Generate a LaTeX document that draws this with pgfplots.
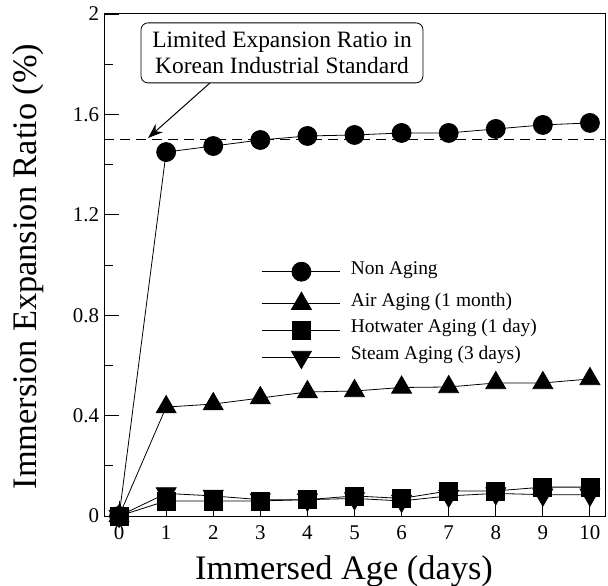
\documentclass[border=0pt]{standalone}
\usepackage{pgfplots}
\pgfplotsset{compat=1.18}
\usepackage{fontspec}
\setmainfont{Liberation Serif}
\usetikzlibrary{arrows.meta}
\begin{document}
\begin{tikzpicture}[x=1bp,y=1bp]
\useasboundingbox (-104,-70) rectangle (504,516);
\begin{axis}[
  at={(0,0)}, anchor=south west,
  scale only axis,
  width=501bp, height=502bp,
  xmin=-0.32, xmax=10.32,
  ymin=0, ymax=2,
  xtick={0,1,...,10},
  ytick={0,0.4,0.8,1.2,1.6,2},
  yticklabels={0,0.4,0.8,1.2,1.6,2},
  minor ytick={0.2,0.6,1.0,1.4,1.8},
  tick pos=left,
  tick align=inside,
  major tick length=15bp,
  minor tick length=9bp,
  every tick/.style={black, line width=0.9pt},
  axis line style={line width=1pt},
  /pgf/number format/assume math mode=true,
  tick label style={font=\fontsize{21}{21}\selectfont},
  yticklabel style={xshift=-1.5bp},
  xticklabel style={yshift=-6bp},
  xlabel={Immersed Age (days)},
  ylabel={Immersion Expansion Ratio (\%)},
  label style={font=\fontsize{34.5}{34.5}\selectfont},
  xlabel style={at={(axis description cs:0.479,-0.126)}, anchor=base, inner sep=0pt},
  ylabel style={at={(axis description cs:-0.1338,0.497)}, anchor=base, inner sep=0pt},
  legend style={draw=none, fill=none, at={(rel axis cs:0.315,0.506)}, anchor=north west,
    font=\fontsize{19.5}{19.5}\selectfont, inner sep=0pt, row sep=11bp,
    nodes={inner sep=2bp, text height=0.72em, text depth=0.22em},
    /tikz/every odd column/.append style={column sep=8bp}},
  legend cell align=left,
  legend image code/.code={\draw[mark repeat=2,mark phase=2] plot coordinates {(0bp,0bp)(39bp,0bp)(78bp,0bp)};},
  every axis plot/.append style={black, line width=0.8pt},
]
\addplot[mark=*, mark size=9.5bp] coordinates {
(0,0)(1,1.45)(2,1.474)(3,1.498)(4,1.514)(5,1.518)(6,1.526)(7,1.526)(8,1.542)(9,1.558)(10,1.566)};
\addlegendentry{Non Aging}
\addplot[mark=triangle*, mark size=11.5bp] coordinates {
(0,0)(1,0.434)(2,0.446)(3,0.47)(4,0.494)(5,0.498)(6,0.512)(7,0.514)(8,0.53)(9,0.53)(10,0.546)};
\addlegendentry{Air Aging (1 month)}
\addplot[mark=square*, mark size=9bp] coordinates {
(0,0)(1,0.06)(2,0.06)(3,0.06)(4,0.065)(5,0.08)(6,0.07)(7,0.1)(8,0.1)(9,0.115)(10,0.115)};
\addlegendentry{Hotwater Aging (1 day)}
\addplot[mark=triangle*, mark options={rotate=180}, mark size=11.5bp] coordinates {
(0,0)(1,0.09)(2,0.08)(3,0.065)(4,0.065)(5,0.07)(6,0.06)(7,0.08)(8,0.09)(9,0.085)(10,0.085)};
\addlegendentry{Steam Aging (3 days)}
\addplot[line width=0.8pt, forget plot, dash pattern=on 10bp off 6bp] coordinates {(-0.32,1.5)(10.32,1.5)};
\node[draw, rounded corners=7bp, line width=0.8pt, align=center, font=\fontsize{23.5}{26}\selectfont, minimum width=282bp, minimum height=60bp, inner sep=2bp] at (axis cs:3.46,1.845) {Limited Expansion Ratio in\\Korean Industrial Standard};
\draw[line width=1pt, -{Stealth[length=15bp,width=11bp]}] (axis cs:1.93,1.725) -- (axis cs:0.616,1.506);
\end{axis}
\end{tikzpicture}
\end{document}
